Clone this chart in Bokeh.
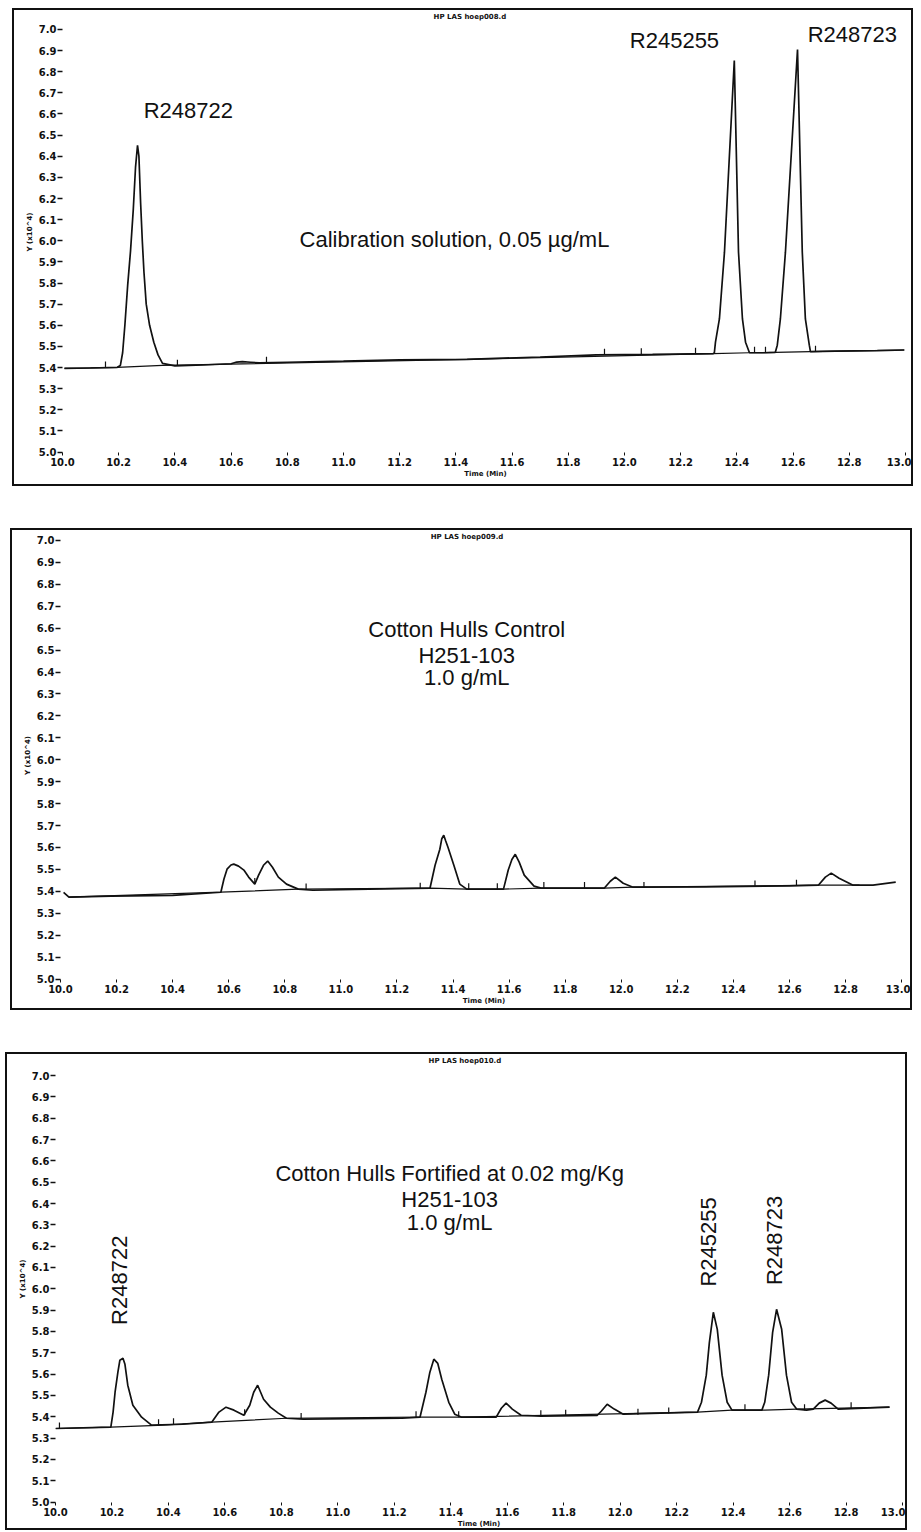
import math
from bokeh.plotting import figure
from bokeh.models import Range1d, Label, FixedTicker, NumeralTickFormatter
from bokeh.layouts import column
from bokeh.embed import file_html
from bokeh.resources import INLINE

# ---------------- data ----------------
x_ticks = [10.0, 10.2, 10.4, 10.6, 10.8, 11.0, 11.2, 11.4, 11.6, 11.8, 12.0, 12.2, 12.4, 12.6, 12.8, 13.0]
y_ticks = [5.0, 5.1, 5.2, 5.3, 5.4, 5.5, 5.6, 5.7, 5.8, 5.9, 6.0, 6.1, 6.2, 6.3, 6.4, 6.5, 6.6, 6.7, 6.8, 6.9, 7.0]

# Panel 1 : calibration solution 0.05 ug/mL
cal_time = [10.007, 10.10, 10.195, 10.206, 10.214, 10.222, 10.232, 10.242, 10.252, 10.260, 10.267,
            10.272, 10.278, 10.284, 10.290, 10.298, 10.310, 10.325, 10.340, 10.356, 10.40, 10.50, 10.60,
            10.62, 10.64, 10.67, 10.70, 10.80, 11.0, 11.2, 11.44, 11.7, 11.9, 12.1, 12.316,
            12.320, 12.324, 12.338, 12.356, 12.391, 12.406, 12.420, 12.431, 12.445,
            12.50, 12.537, 12.544, 12.555, 12.573, 12.616, 12.633, 12.644, 12.658, 12.662,
            12.75, 12.90, 12.996]
cal_signal = [5.396, 5.398, 5.401, 5.410, 5.470, 5.600, 5.790, 5.950, 6.150, 6.350, 6.452,
              6.400, 6.180, 6.000, 5.850, 5.700, 5.600, 5.520, 5.460, 5.420, 5.408, 5.412, 5.418,
              5.426, 5.428, 5.425, 5.422, 5.425, 5.430, 5.436, 5.439, 5.450, 5.460, 5.462, 5.466,
              5.470, 5.520, 5.630, 5.946, 6.853, 5.946, 5.630, 5.520, 5.470,
              5.470, 5.472, 5.506, 5.630, 5.946, 6.905, 5.946, 5.630, 5.506, 5.475,
              5.478, 5.480, 5.483]
cal_base_time = [10.007, 10.195, 10.356, 11.44, 12.316, 12.445, 12.537, 12.662, 12.996]
cal_base_signal = [5.396, 5.401, 5.410, 5.439, 5.466, 5.470, 5.472, 5.475, 5.483]
cal_evt_time = [10.153, 10.409, 10.726, 11.929, 12.060, 12.253, 12.463, 12.502, 12.680]
cal_evt_signal = [5.400, 5.408, 5.423, 5.461, 5.463, 5.465, 5.470, 5.470, 5.475]

# Panel 2 : cotton hulls control
ctl_time = [10.011, 10.03, 10.18, 10.40, 10.572, 10.583, 10.594, 10.608, 10.618, 10.635, 10.654, 10.671,
            10.693, 10.707, 10.724, 10.739, 10.756, 10.777, 10.806, 10.848, 10.90, 11.10, 11.318, 11.336,
            11.353, 11.360, 11.367, 11.374, 11.382, 11.403, 11.424, 11.449, 11.58, 11.597, 11.610, 11.622,
            11.636, 11.654, 11.689, 11.714, 11.94, 11.961, 11.979, 12.007, 12.042, 12.30, 12.60, 12.703,
            12.728, 12.749, 12.777, 12.827, 12.898, 12.979]
ctl_signal = [5.395, 5.374, 5.378, 5.382, 5.396, 5.456, 5.501, 5.520, 5.524, 5.515, 5.497, 5.465,
              5.433, 5.475, 5.519, 5.538, 5.510, 5.465, 5.433, 5.410, 5.405, 5.410, 5.415, 5.519,
              5.592, 5.640, 5.656, 5.630, 5.601, 5.519, 5.433, 5.410, 5.410, 5.497, 5.545, 5.569,
              5.533, 5.474, 5.424, 5.415, 5.415, 5.446, 5.465, 5.437, 5.419, 5.420, 5.425, 5.428,
              5.465, 5.483, 5.460, 5.428, 5.428, 5.442]
ctl_base_time = [10.03, 10.572, 10.848, 11.318, 11.449, 11.58, 11.714, 11.94, 12.042, 12.703, 12.85]
ctl_base_signal = [5.374, 5.396, 5.410, 5.415, 5.410, 5.410, 5.415, 5.415, 5.419, 5.428, 5.428]
ctl_evt_time = [10.693, 10.876, 11.283, 11.456, 11.558, 11.724, 11.869, 12.081, 12.477, 12.625]
ctl_evt_signal = [5.433, 5.408, 5.412, 5.410, 5.410, 5.415, 5.415, 5.415, 5.422, 5.425]

# Panel 3 : cotton hulls fortified at 0.02 mg/Kg
frt_time = [10.0, 10.196, 10.204, 10.211, 10.221, 10.228, 10.239, 10.246, 10.256, 10.274, 10.305, 10.34,
            10.45, 10.554, 10.579, 10.604, 10.632, 10.667, 10.688, 10.702, 10.716, 10.737, 10.761, 10.789,
            10.818, 10.877, 11.228, 11.291, 11.312, 11.326, 11.340, 11.354, 11.368, 11.393, 11.414, 11.439,
            11.561, 11.579, 11.596, 11.618, 11.649, 11.719, 11.919, 11.933, 11.954, 11.979, 12.011, 12.274,
            12.288, 12.305, 12.316, 12.330, 12.344, 12.361, 12.379, 12.396, 12.502, 12.512, 12.526, 12.540,
            12.554, 12.572, 12.589, 12.607, 12.625, 12.660, 12.684, 12.705, 12.726, 12.747, 12.772, 12.954]
frt_signal = [5.345, 5.351, 5.422, 5.515, 5.609, 5.665, 5.674, 5.646, 5.548, 5.454, 5.398, 5.361,
              5.365, 5.375, 5.422, 5.445, 5.431, 5.407, 5.454, 5.515, 5.548, 5.482, 5.445, 5.417,
              5.393, 5.389, 5.393, 5.398, 5.515, 5.609, 5.670, 5.650, 5.576, 5.468, 5.412, 5.398,
              5.398, 5.440, 5.464, 5.436, 5.407, 5.403, 5.407, 5.426, 5.459, 5.436, 5.412, 5.422,
              5.468, 5.595, 5.749, 5.890, 5.810, 5.595, 5.468, 5.431, 5.431, 5.468, 5.595, 5.796,
              5.904, 5.810, 5.595, 5.468, 5.436, 5.431, 5.436, 5.464, 5.478, 5.464, 5.436, 5.445]
frt_base_time = [10.0, 10.196, 10.361, 10.554, 10.818, 11.291, 11.439, 12.274, 12.396, 12.512, 12.625, 12.954]
frt_base_signal = [5.345, 5.351, 5.360, 5.375, 5.393, 5.398, 5.398, 5.422, 5.431, 5.431, 5.436, 5.445]
frt_evt_time = [10.014, 10.365, 10.418, 10.670, 10.870, 11.277, 11.428, 11.719, 11.807, 12.063, 12.172,
                12.442, 12.653, 12.818]
frt_evt_signal = [5.345, 5.360, 5.365, 5.407, 5.390, 5.398, 5.398, 5.403, 5.405, 5.410, 5.415,
                  5.431, 5.431, 5.440]

FONT = "Liberation Sans"


def make_panel(tag, w, h, mb_left, mb_right, mb_bottom, x_end, y_end, margin,
               t, s, bt, bs, et, es):
    p = figure(width=w, height=h, output_backend="svg", toolbar_location=None,
               x_range=Range1d(10.0, x_end), y_range=Range1d(4.998, y_end),
               min_border_left=mb_left, min_border_right=mb_right,
               min_border_top=1, min_border_bottom=mb_bottom,
               background_fill_color="white", border_fill_color="white")
    p.margin = margin
    p.styles = {"border": "2px solid #111"}
    p.outline_line_color = None
    p.grid.visible = False
    for ax in (p.xaxis, p.yaxis):
        ax.axis_line_color = None
        ax.minor_tick_line_color = None
        ax.major_tick_line_color = "#111"
        ax.major_label_text_font = "DejaVu Sans"
        ax.major_label_text_font_style = "bold"
        ax.major_label_text_font_size = "10px"
        ax.major_label_text_color = "#111"
        ax.axis_label_text_font = "DejaVu Sans"
        ax.axis_label_text_font_style = "bold"
        ax.axis_label_text_font_size = "7px"
        ax.axis_label_text_color = "#111"
    p.xaxis.ticker = FixedTicker(ticks=x_ticks)
    p.yaxis.ticker = FixedTicker(ticks=y_ticks)
    p.xaxis.formatter = NumeralTickFormatter(format="0.0")
    p.yaxis.formatter = NumeralTickFormatter(format="0.0")
    p.xaxis.major_tick_in = 0
    p.xaxis.major_tick_out = 3
    p.xaxis.major_label_standoff = 2
    p.xaxis.axis_label = "Time (Min)"
    p.xaxis.axis_label_standoff = 1
    p.yaxis.major_tick_in = 0
    p.yaxis.major_tick_out = 5
    p.yaxis.major_tick_line_width = 1.5
    p.yaxis.major_label_standoff = 1
    p.yaxis.axis_label = "Y (x10^4)"
    p.yaxis.axis_label_standoff = 2

    p.line(bt, bs, line_color="#111", line_width=1.2)
    p.line(t, s, line_color="#111", line_width=1.7)
    p.ray(x=et, y=es, length=6, length_units="screen", angle=math.pi / 2,
          line_color="#111", line_width=1.2)
    p.add_layout(Label(x=11.45, y=y_end, text=tag, text_align="center", text_baseline="top",
                       text_font="DejaVu Sans", text_font_style="bold", text_font_size="7px",
                       text_color="#111", y_offset=-1))
    return p


def add_text(p, x, y, text, size="22px", angle=0.0):
    p.add_layout(Label(x=x, y=y, text=text, text_align="center", text_baseline="middle",
                       text_font=FONT, text_font_size=size, text_color="#111", angle=angle))


p1 = make_panel("HP LAS hoep008.d", 901, 478, 48, 7, 36, 13.011, 7.085, (8, 0, 0, 12),
                cal_time, cal_signal, cal_base_time, cal_base_signal, cal_evt_time, cal_evt_signal)
add_text(p1, 10.448, 6.617, "R248722")
add_text(p1, 12.178, 6.948, "R245255")
add_text(p1, 12.811, 6.976, "R248723")
add_text(p1, 11.395, 6.007, "Calibration solution, 0.05 µg/mL")

p2 = make_panel("HP LAS hoep009.d", 902, 482, 40, 7, 33, 13.021, 7.041, (42, 0, 0, 10),
                ctl_time, ctl_signal, ctl_base_time, ctl_base_signal, ctl_evt_time, ctl_evt_signal)
add_text(p2, 11.449, 6.595, "Cotton Hulls Control")
add_text(p2, 11.449, 6.476, "H251-103")
add_text(p2, 11.449, 6.376, "1.0 g/mL")

p3 = make_panel("HP LAS hoep010.d", 902, 478, 45, 2, 30, 13.0, 7.094, (42, 0, 0, 5),
                frt_time, frt_signal, frt_base_time, frt_base_signal, frt_evt_time, frt_evt_signal)
add_text(p3, 11.396, 6.541, "Cotton Hulls Fortified at 0.02 mg/Kg")
add_text(p3, 11.396, 6.419, "H251-103")
add_text(p3, 11.396, 6.311, "1.0 g/mL")
add_text(p3, 10.228, 6.04, "R248722", angle=math.pi / 2)
add_text(p3, 12.312, 6.22, "R245255", angle=math.pi / 2)
add_text(p3, 12.547, 6.227, "R248723", angle=math.pi / 2)

layout = column(p1, p2, p3, spacing=0)
open("out.html", "w").write(file_html(layout, INLINE))
